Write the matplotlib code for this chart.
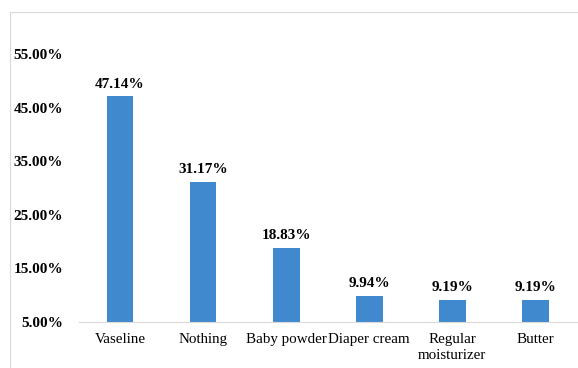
import matplotlib.pyplot as plt
import matplotlib as mpl
from matplotlib.patches import Rectangle

# data
categories = ['Vaseline', 'Nothing', 'Baby powder', 'Diaper cream',
              'Regular\nmoisturizer', 'Butter']
values = [47.14, 31.17, 18.83, 9.94, 9.19, 9.19]
yticks = [5, 15, 25, 35, 45, 55]

bar_color = '#4189cf'

mpl.rcParams['font.family'] = ['Liberation Serif', 'DejaVu Serif']

fig = plt.figure(figsize=(5.78, 3.68), dpi=100)
W, H = 578.0, 368.0
# axes: left 78.5px, right 577px, bottom y=322px, top y=54px
ax = fig.add_axes([78.5 / W, (H - 322) / H, (577 - 78.5) / W, (322 - 54) / H])

# light frame around the chart area
fig.patches.append(Rectangle((10 / W, -0.01), 1.0, (H - 12) / H + 0.01,
                             transform=fig.transFigure, fill=False,
                             edgecolor='#d9d9d9', linewidth=0.8))

x = range(len(categories))
bars = ax.bar(x, values, width=0.32, color=bar_color, zorder=2)

ax.set_xlim(-0.5, len(categories) - 0.5)
ax.set_ylim(5, 55)
ax.set_yticks(yticks)
ax.set_yticklabels(['%.2f%%' % v for v in yticks], fontsize=11,
                   fontweight='bold')
ax.set_xticks(list(x))
ax.set_xticklabels(categories, fontsize=10.8, linespacing=1.3)

for spine in ['top', 'right', 'left']:
    ax.spines[spine].set_visible(False)
ax.spines['bottom'].set_color('#d9d9d9')
ax.spines['bottom'].set_linewidth(0.8)
ax.tick_params(axis='both', length=0)
ax.tick_params(axis='y', pad=11)
ax.tick_params(axis='x', pad=8)

for b, v in zip(bars, values):
    ax.annotate('%.2f%%' % v, (b.get_x() + b.get_width() / 2, v),
                xytext=(0, 4), textcoords='offset points',
                ha='center', va='bottom', fontsize=11, fontweight='bold',
                annotation_clip=False)

plt.savefig('out.png', dpi=100)
